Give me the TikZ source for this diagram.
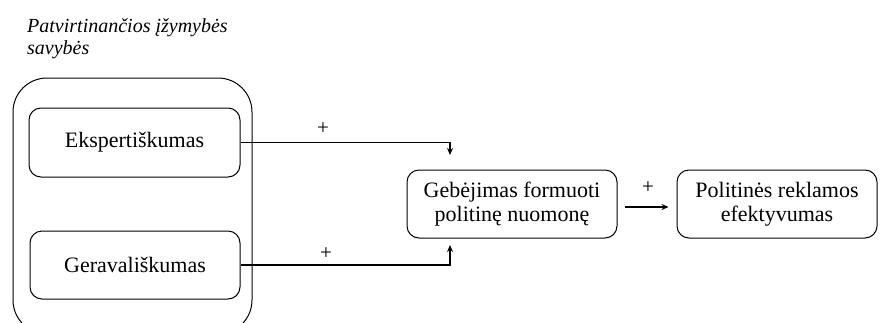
\documentclass[tikz,border=0pt]{standalone}
\usepackage{fontspec}
\setmainfont{Liberation Serif}
\usetikzlibrary{arrows.meta}
\begin{document}
\begin{tikzpicture}[x=1pt,y=-1pt,
  box/.style={draw, rounded corners=12pt, line width=1pt, align=center,
    inner sep=0pt, font=\fontsize{22}{24}\selectfont},
  link/.style={line width=1.6pt, -{Stealth[length=7pt,width=6pt]}},
  sign/.style={font=\fontsize{21}{21}\selectfont, inner sep=0pt}]
\useasboundingbox (0,0) rectangle (880,322);

% group caption
\node[anchor=north west, align=left, inner sep=0pt,
  font=\fontsize{20}{22}\selectfont\itshape] (cap) at (27,18)
  {Patvirtinančios įžymybės\\savybės};

% outer group frame (runs past the lower edge)
\draw[line width=1pt, rounded corners=34pt] (13,78) rectangle (252,334);

% boxes
\node[box, minimum width=211pt, minimum height=69pt] (exp) at (134.5,142.5) {Ekspertiškumas};
\node[box, minimum width=210pt, minimum height=68pt] (ger) at (135,265) {Geravališkumas};
\node[box, minimum width=210pt, minimum height=68pt] (geb) at (512,204) {Gebėjimas formuoti\\politinę nuomonę};
\node[box, minimum width=200pt, minimum height=68pt] (pol) at (777,204) {Politinės reklamos\\efektyvumas};

% arrow ends
\coordinate (t1) at (450,155);
\coordinate (t2) at (450,245);

% connectors
\draw[link] (exp.east) -| (t1);
\draw[link] (ger.east) -| (t2);
\draw[link, shorten <=7pt, shorten >=8pt] ([yshift=-3pt]geb.east) -- ([yshift=-3pt]pol.west);

% signs
\node[sign] (s1) at (323,129) {+};
\node[sign] (s2) at (326,254) {+};
\node[sign] (s3) at (648,188) {+};
\end{tikzpicture}
\end{document}
